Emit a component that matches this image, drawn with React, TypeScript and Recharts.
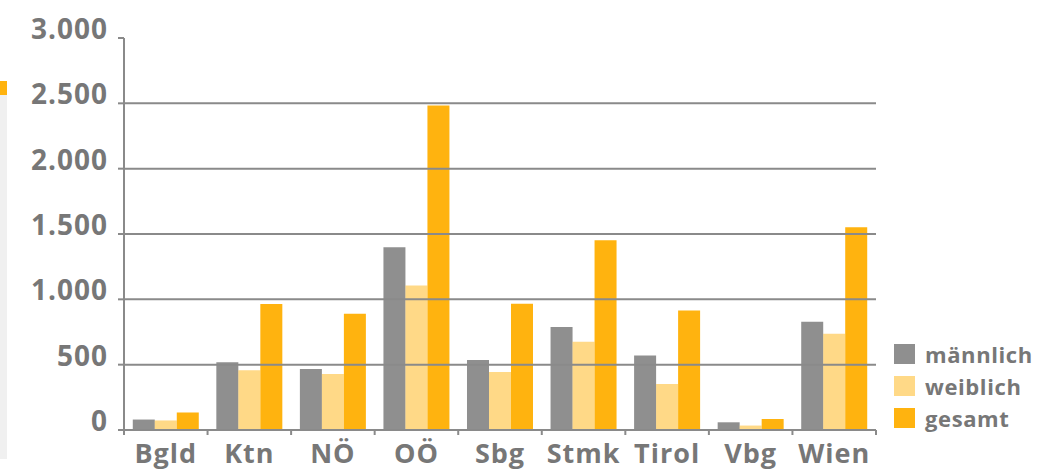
import React from 'react';
import { BarChart, Bar, XAxis, YAxis, ReferenceLine, Legend } from 'recharts';

// Bundesländer
const regions = ['Bgld', 'Ktn', 'NÖ', 'OÖ', 'Sbg', 'Stmk', 'Tirol', 'Vbg', 'Wien'];
const maennlich = [80, 518, 467, 1398, 535, 788, 570, 59, 828];
const weiblich = [73, 457, 428, 1105, 444, 675, 352, 34, 736];
const gesamt = [134, 964, 890, 2484, 966, 1452, 914, 84, 1551];

const seriesOrder = ['männlich', 'weiblich', 'gesamt'];
const yTicks = [0, 500, 1000, 1500, 2000, 2500, 3000];
const gridValues = [500, 1000, 1500, 2000, 2500];

const data = regions.map((r, i) => ({
  region: r,
  männlich: maennlich[i],
  weiblich: weiblich[i],
  gesamt: gesamt[i],
}));

const GREY = '#8f8f8f';
const ORANGE = '#ffb30f';
const TEXT = '#777777';
const LINE = '#8a8a8a';
const FONT = '"Open Sans", "Noto Sans", sans-serif';
const X_TICK_MARGIN = 14;
const X_TICK_LEN = 5;

const formatDe = (v: number) => String(v).replace(/\B(?=(\d{3})+(?!\d))/g, '.');

// Category label plus tick marks on the category boundaries
const CategoryTick = (props: any) => {
  const { x, y, payload, index, width } = props;
  const band = width / regions.length;
  const axisY = y - X_TICK_MARGIN;
  const left = x - band / 2;
  const right = x + band / 2;
  return (
    <g>
      <line x1={left} x2={left} y1={axisY} y2={axisY + X_TICK_LEN} stroke={LINE} strokeWidth={2} />
      {index === regions.length - 1 && (
        <line x1={right} x2={right} y1={axisY} y2={axisY + X_TICK_LEN} stroke={LINE} strokeWidth={2} />
      )}
      <text
        x={x}
        y={y}
        dy="0.71em"
        textAnchor="middle"
        fill={TEXT}
        fontSize={27}
        fontWeight={700}
        letterSpacing={1}
        fontFamily={FONT}
      >
        {payload.value}
      </text>
    </g>
  );
};

const LegendContent = (props: any) => {
  const items = [...(props.payload || [])].sort(
    (a: any, b: any) => seriesOrder.indexOf(a.value) - seriesOrder.indexOf(b.value)
  );
  return (
    <div style={{ fontFamily: FONT, fontWeight: 700 }}>
      {items.map((it: any) => (
        <div key={it.value} style={{ display: 'flex', alignItems: 'center', height: 32 }}>
          <span
            style={{
              display: 'inline-block',
              width: 21,
              height: 20,
              background: it.color,
              opacity: it.payload && it.payload.fillOpacity ? it.payload.fillOpacity : 1,
              marginRight: 10,
            }}
          />
          <span style={{ color: TEXT, fontSize: 22, letterSpacing: 0.6 }}>{it.value}</span>
        </div>
      ))}
    </div>
  );
};

export default function App() {
  return (
    <div style={{ position: 'absolute', left: 0, top: 0, width: 1052, height: 469, background: '#fff' }}>
      <div style={{ position: 'absolute', left: 0, top: 81, width: 7, height: 14, background: ORANGE }} />
      <div style={{ position: 'absolute', left: 0, top: 95, width: 7, height: 364, background: '#f0f0f0' }} />
      <BarChart
        width={1052}
        height={469}
        data={data}
        margin={{ top: 38, right: 18, bottom: 0, left: 0 }}
        barCategoryGap="10.5%"
        barGap={0}
        style={{ fontFamily: FONT }}
      >
        <XAxis
          dataKey="region"
          height={39}
          axisLine={{ stroke: LINE, strokeWidth: 2 }}
          tickLine={false}
          tickSize={0}
          tickMargin={X_TICK_MARGIN}
          tick={<CategoryTick />}
          interval={0}
        />
        <YAxis
          domain={[0, 3000]}
          ticks={yTicks}
          width={124}
          axisLine={{ stroke: LINE, strokeWidth: 2 }}
          tickLine={{ stroke: LINE, strokeWidth: 2 }}
          tickSize={6}
          tickMargin={10}
          tickFormatter={formatDe}
          tick={{ fill: TEXT, fontSize: 28, fontWeight: 700, dy: -9, letterSpacing: 1 }}
        />
        {gridValues.map((v) => (
          <ReferenceLine key={v} y={v} stroke={LINE} strokeWidth={2} />
        ))}
        <Legend
          layout="vertical"
          align="right"
          verticalAlign="top"
          content={<LegendContent />}
          wrapperStyle={{ left: 894, top: 338, width: 158 }}
        />
        <Bar dataKey="männlich" fill={GREY} isAnimationActive={false} />
        <Bar dataKey="weiblich" fill={ORANGE} fillOpacity={0.5} isAnimationActive={false} />
        <Bar dataKey="gesamt" fill={ORANGE} isAnimationActive={false} />
      </BarChart>
    </div>
  );
}
